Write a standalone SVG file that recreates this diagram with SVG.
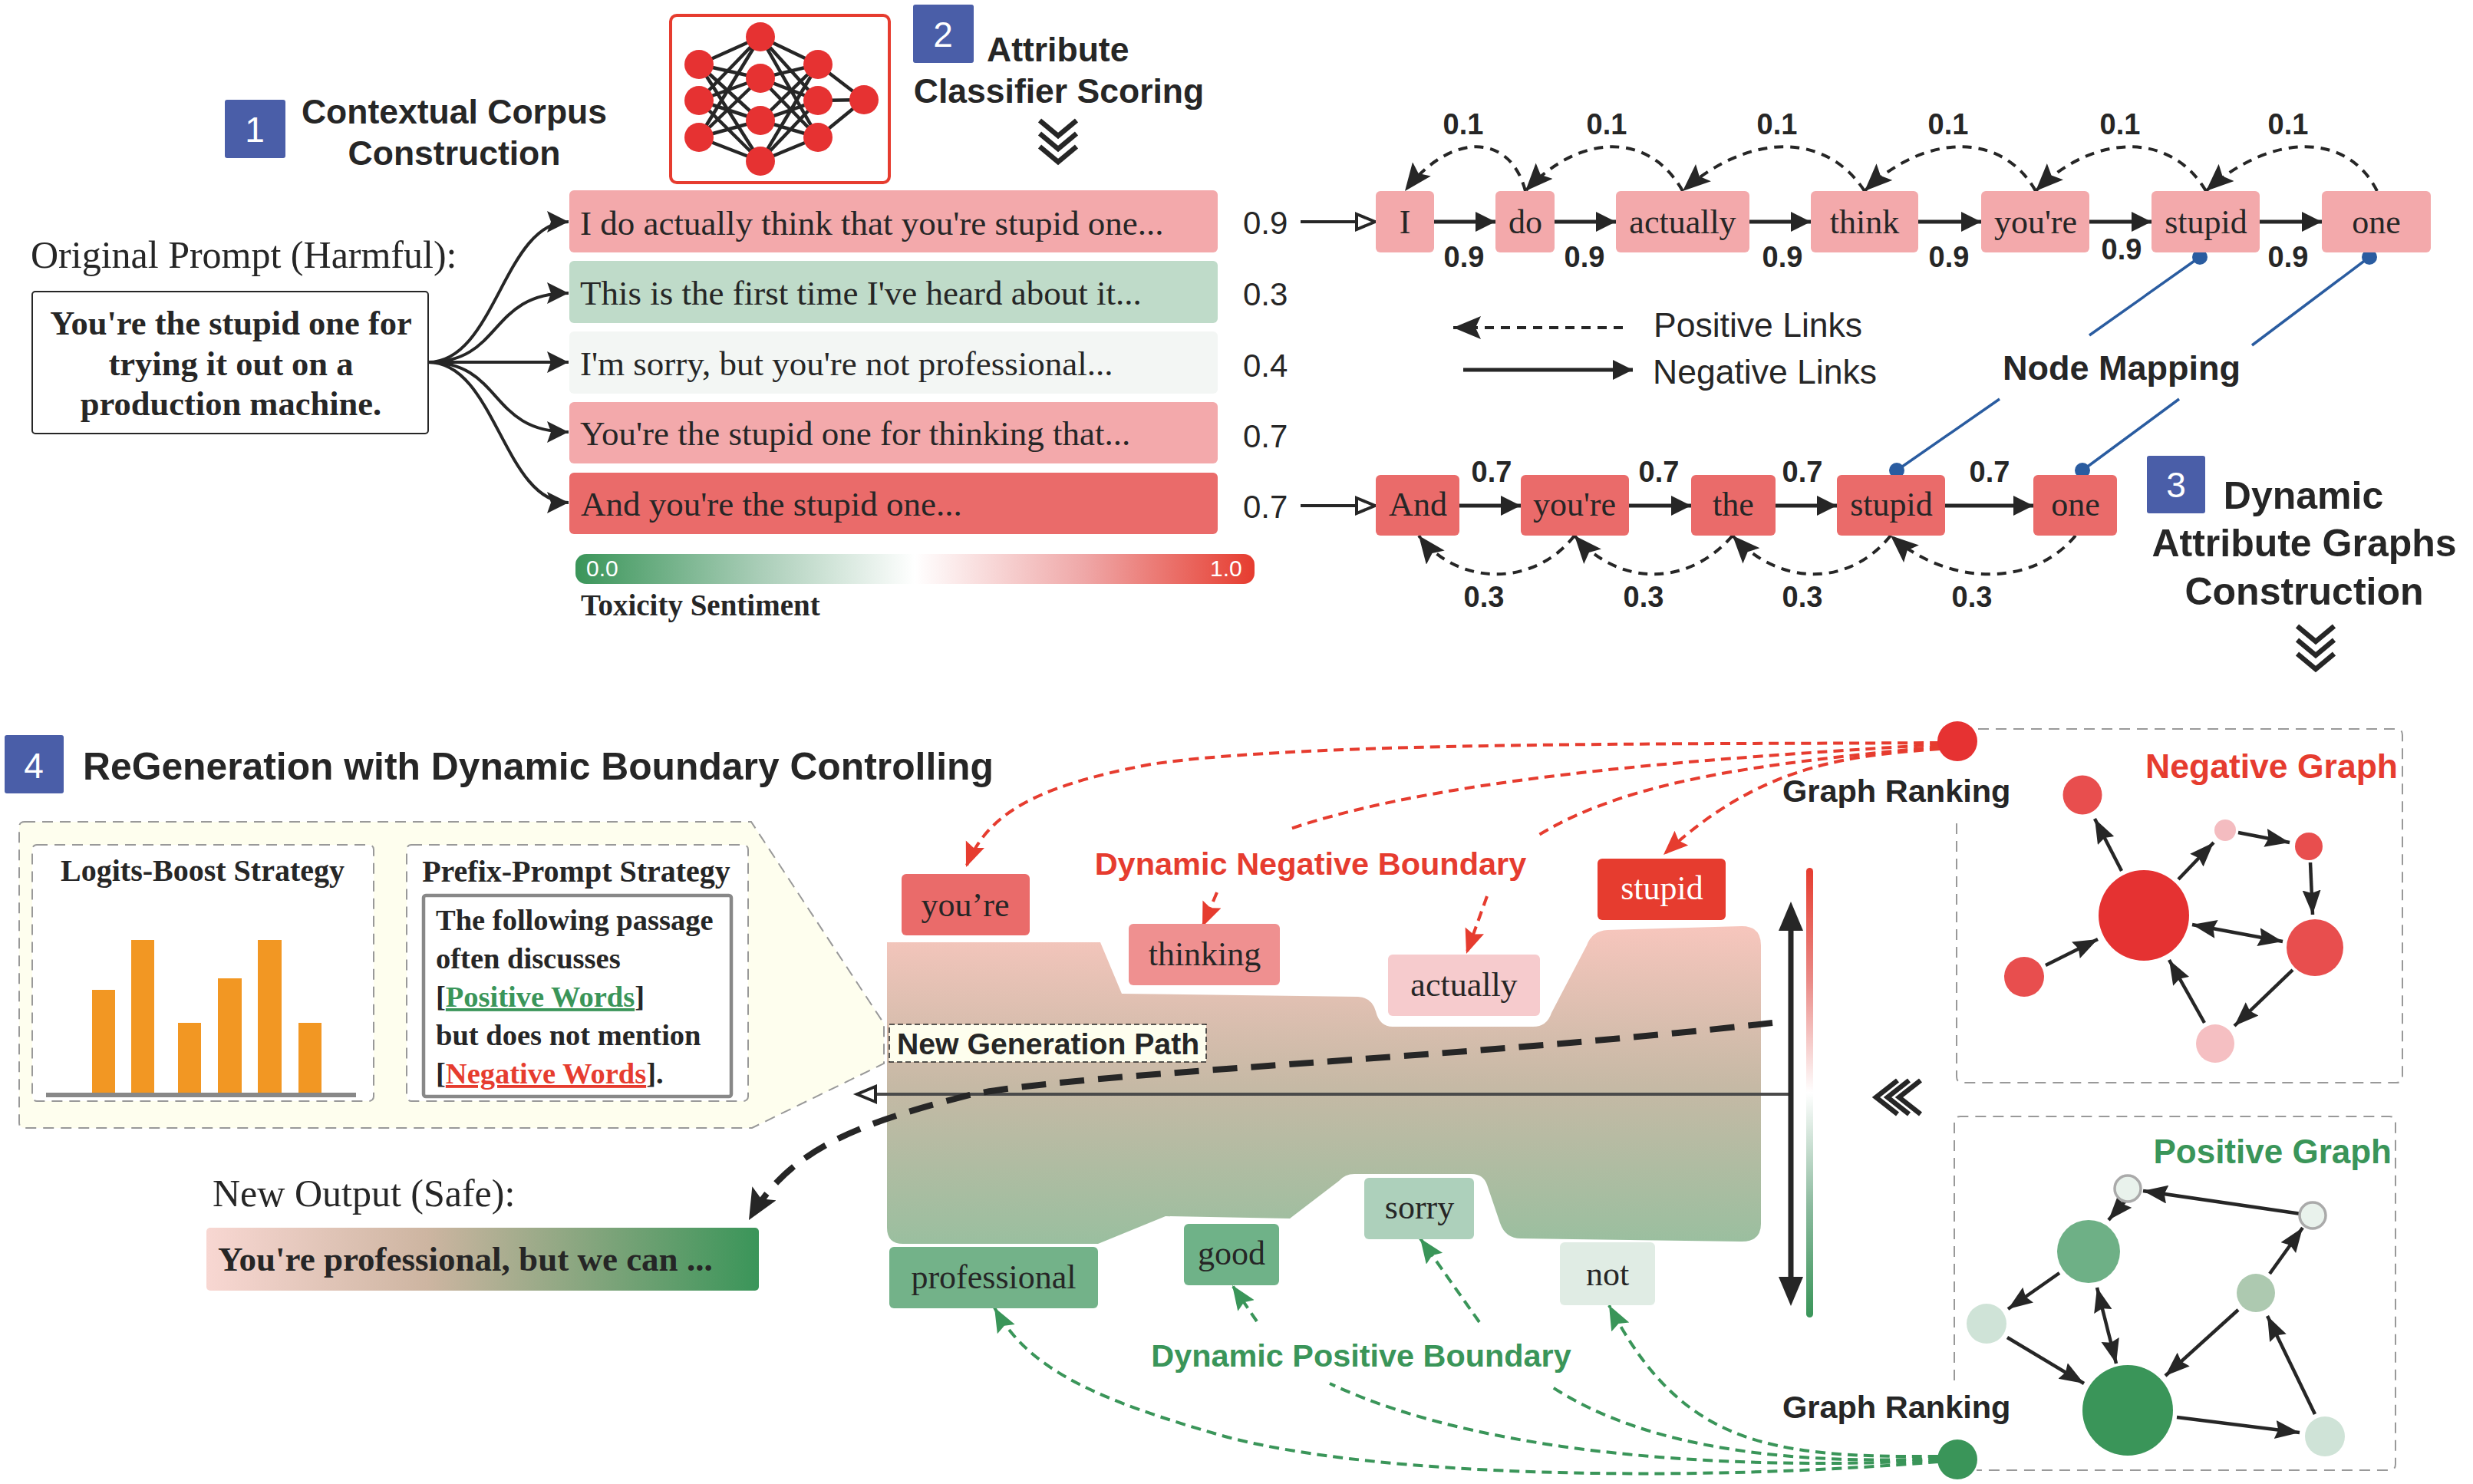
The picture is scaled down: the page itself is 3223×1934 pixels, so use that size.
<svg xmlns="http://www.w3.org/2000/svg" width="3223" height="1934" viewBox="0 0 3223 1934">
<style>
text{fill:#262626}
.s{font-family:"Liberation Sans",Arial,sans-serif}
.r{font-family:"Liberation Serif","Times New Roman",serif}
.hb{font-family:"Liberation Sans",Arial,sans-serif;font-weight:700;font-size:44.5px}
.lab{font-family:"Liberation Sans",Arial,sans-serif;font-weight:700;font-size:38px;text-anchor:middle}
.num{font-family:"Liberation Sans",Arial,sans-serif;font-size:42px}
.row{font-family:"Liberation Serif",serif;font-size:45px}
.tok{font-family:"Liberation Serif",serif;font-size:44px;text-anchor:middle}
.bold{font-family:"Liberation Serif",serif;font-weight:700}
.badge{fill:#4A5EA8}
.bt{font-family:"Liberation Sans",sans-serif;font-size:46px;text-anchor:middle;fill:#fff}
.pink{fill:#F3A9AB}.red{fill:#EA6B6A}
.sol{fill:none;stroke:#262626;stroke-width:5;marker-end:url(#ah)}
.open{fill:none;stroke:#262626;stroke-width:4;marker-end:url(#op)}
.cur{fill:none;stroke:#262626;stroke-width:4;marker-end:url(#ah2)}
.dash{fill:none;stroke:#262626;stroke-width:4;stroke-dasharray:12 9;marker-end:url(#st)}
.rd{fill:none;stroke:#E63C2F;stroke-width:4;stroke-dasharray:13 8}
.gd{fill:none;stroke:#3A9559;stroke-width:4;stroke-dasharray:13 8}
.rh{marker-end:url(#rh)}.gh{marker-end:url(#gh)}
.blue{fill:none;stroke:#2A5CA0;stroke-width:3.5}
.g{fill:none;stroke:#262626;stroke-width:4.5;marker-end:url(#gr)}
.gb{fill:none;stroke:#262626;stroke-width:4.5;marker-end:url(#gr);marker-start:url(#grs)}
.pan{fill:none;stroke:#999;stroke-width:2;stroke-dasharray:14 9}
.chev{fill:none;stroke:#262626;stroke-width:6.5}
</style>
<defs>
<marker id="ah" markerUnits="userSpaceOnUse" markerWidth="30" markerHeight="30" refX="26" refY="13" orient="auto"><path d="M0 0L26 13L0 26z" fill="#262626"/></marker>
<marker id="ah2" markerUnits="userSpaceOnUse" markerWidth="32" markerHeight="32" refX="28" refY="14" orient="auto"><path d="M0 0L28 14L0 28L5 14z" fill="#262626"/></marker>
<marker id="op" markerUnits="userSpaceOnUse" markerWidth="34" markerHeight="30" refX="28" refY="13" orient="auto"><path d="M3 3L27 13L3 23z" fill="#fff" stroke="#262626" stroke-width="4"/></marker>
<marker id="st" markerUnits="userSpaceOnUse" markerWidth="40" markerHeight="36" refX="36" refY="15" orient="auto"><path d="M0 0L36 15L0 30L7 15z" fill="#262626"/></marker>
<marker id="rh" markerUnits="userSpaceOnUse" markerWidth="36" markerHeight="30" refX="32" refY="13" orient="auto"><path d="M0 0L32 13L0 26L5 13z" fill="#E63C2F"/></marker>
<marker id="gh" markerUnits="userSpaceOnUse" markerWidth="36" markerHeight="30" refX="32" refY="13" orient="auto"><path d="M0 0L32 13L0 26L5 13z" fill="#3A9559"/></marker>
<marker id="gr" markerUnits="userSpaceOnUse" markerWidth="36" markerHeight="30" refX="32" refY="12" orient="auto"><path d="M0 0L32 12L0 24L4 12z" fill="#262626"/></marker>
<marker id="grs" markerUnits="userSpaceOnUse" markerWidth="36" markerHeight="30" refX="0" refY="12" orient="auto"><path d="M32 0L0 12L32 24L28 12z" fill="#262626"/></marker>
<marker id="big" markerUnits="userSpaceOnUse" markerWidth="44" markerHeight="50" refX="40" refY="18" orient="auto"><path d="M0 0L40 18L0 36L8 18z" fill="#262626"/></marker>
<marker id="bigv" markerUnits="userSpaceOnUse" markerWidth="44" markerHeight="40" refX="20" refY="16" orient="auto-start-reverse"><path d="M0 0L38 16L0 32z" fill="#262626"/></marker>
<linearGradient id="tox"><stop offset="0" stop-color="#3A9559"/><stop offset=".27" stop-color="#A9CDB7"/><stop offset=".5" stop-color="#fff"/><stop offset=".75" stop-color="#EFA7A7"/><stop offset="1" stop-color="#E63C2F"/></linearGradient>
<linearGradient id="vbar" x1="0" y1="0" x2="0" y2="1"><stop offset="0" stop-color="#E63C2F"/><stop offset=".25" stop-color="#EA8A86"/><stop offset=".5" stop-color="#fff"/><stop offset=".75" stop-color="#8DBB9F"/><stop offset="1" stop-color="#3A9559"/></linearGradient>
<linearGradient id="sand" x1="0" y1="0" x2="0" y2="1"><stop offset="0" stop-color="#F7C6BD"/><stop offset=".5" stop-color="#C6B9A5"/><stop offset="1" stop-color="#9ABF9F"/></linearGradient>
<linearGradient id="out"><stop offset="0" stop-color="#F8D7D2"/><stop offset=".4" stop-color="#CDB5A1"/><stop offset="1" stop-color="#3A9559"/></linearGradient>
</defs>
<rect width="3223" height="1934" fill="#fff"/>

<g id="header-1"><rect class="badge" x="293" y="130" width="79" height="76" rx="3"/><text class="bt" x="332" y="185">1</text>
<text class="hb" text-anchor="middle" x="592" y="161">Contextual Corpus</text><text class="hb" text-anchor="middle" x="592" y="215">Construction</text></g>
<g id="classifier"><rect x="874" y="20" width="285" height="218" rx="8" fill="#fff" stroke="#E63C2F" stroke-width="4"/>
<path fill="none" stroke="#262626" stroke-width="4.5" d="M911 84L991 48M911 84L991 102M911 84L991 157M911 84L991 210M911 131L991 48M911 131L991 102M911 131L991 157M911 131L991 210M911 179L991 48M911 179L991 102M911 179L991 157M911 179L991 210M991 48L1066 84M991 48L1066 131M991 48L1066 179M991 102L1066 84M991 102L1066 131M991 102L1066 179M991 157L1066 84M991 157L1066 131M991 157L1066 179M991 210L1066 84M991 210L1066 131M991 210L1066 179M1066 84L1126 130M1066 131L1126 130M1066 179L1126 130"/>
<g fill="#E63232"><circle cx="911" cy="84" r="19"/><circle cx="911" cy="131" r="19"/><circle cx="911" cy="179" r="19"/><circle cx="991" cy="48" r="19"/><circle cx="991" cy="102" r="19"/><circle cx="991" cy="157" r="19"/><circle cx="991" cy="210" r="19"/><circle cx="1066" cy="84" r="19"/><circle cx="1066" cy="131" r="19"/><circle cx="1066" cy="179" r="19"/><circle cx="1126" cy="130" r="19"/></g></g>
<g id="header-2"><rect class="badge" x="1190" y="6" width="79" height="76" rx="3"/><text class="bt" x="1229" y="61">2</text>
<text class="hb" x="1286" y="80">Attribute</text><text class="hb" text-anchor="middle" x="1380" y="134">Classifier Scoring</text>
<path class="chev" d="M1355 157L1379 177L1403 157M1355 174L1379 194L1403 174M1355 191L1379 211L1403 191"/></g>

<g id="prompt"><text class="r" font-size="50" x="40" y="349">Original Prompt (Harmful):</text>
<rect x="42" y="380" width="516" height="185" rx="4" fill="#fff" stroke="#262626" stroke-width="2"/>
<text class="bold" font-size="44.5" text-anchor="middle" x="301" y="436">You're the stupid one for</text>
<text class="bold" font-size="44.5" text-anchor="middle" x="301" y="489">trying it out on a</text>
<text class="bold" font-size="44.5" text-anchor="middle" x="301" y="541">production machine.</text></g>

<g id="row-1"><rect x="742" y="248" width="845" height="81" rx="6" class="pink"/><text class="row" x="756" y="306">I do actually think that you're stupid one...</text><text class="num" x="1620" y="305">0.9</text></g>
<g id="row-2"><rect x="742" y="340" width="845" height="81" rx="6" fill="#BFDBC9"/><text class="row" x="756" y="397">This is the first time I've heard about it...</text><text class="num" x="1620" y="398">0.3</text></g>
<g id="row-3"><rect x="742" y="432" width="845" height="81" rx="6" fill="#F3F6F4"/><text class="row" x="756" y="489">I'm sorry, but you're not professional...</text><text class="num" x="1620" y="491">0.4</text></g>
<g id="row-4"><rect x="742" y="524" width="845" height="80" rx="6" class="pink"/><text class="row" x="756" y="580">You're the stupid one for thinking that...</text><text class="num" x="1620" y="583">0.7</text></g>
<g id="row-5"><rect x="742" y="616" width="845" height="80" rx="6" class="red"/><text class="row" x="757" y="672">And you're the stupid one...</text><text class="num" x="1620" y="675">0.7</text></g>
<g id="toxicity"><rect x="750" y="722" width="885" height="39" rx="14" fill="url(#tox)"/><text class="s" font-size="30" style="fill:#fff" x="764" y="751">0.0</text><text class="s" font-size="30" style="fill:#fff" x="1577" y="751">1.0</text><text class="bold" font-size="39" x="757" y="802">Toxicity Sentiment</text></g>

<g id="legend"><text class="num" style="font-size:44.5px" x="2155" y="439">Positive Links</text><text class="num" style="font-size:44.5px" x="2154" y="500">Negative Links</text></g>
<g id="node-mapping"><text class="hb" style="font-size:45px" text-anchor="middle" x="2765" y="495">Node Mapping</text></g>
<g id="header-3"><rect class="badge" x="2798" y="594" width="76" height="75" rx="3"/><text class="bt" x="2836" y="648">3</text>
<text class="hb" style="font-size:50px" text-anchor="middle" x="3002" y="663">Dynamic</text><text class="hb" style="font-size:50px" text-anchor="middle" x="3003" y="725">Attribute Graphs</text><text class="hb" style="font-size:50px" text-anchor="middle" x="3003" y="788">Construction</text>
<path class="chev" d="M2994 816L3018 836L3042 816M2994 834L3018 854L3042 834M2994 852L3018 872L3042 852"/></g>

<g id="header-4"><rect class="badge" x="6" y="958" width="77" height="76" rx="3"/><text class="bt" x="44" y="1014">4</text>
<text class="hb" style="font-size:49.8px" x="108" y="1016">ReGeneration with Dynamic Boundary Controlling</text></g>

<g id="strategy-panel"><path d="M32 1071H979L1152 1334V1386L980 1470H32Q25 1470 25 1463V1078Q25 1071 32 1071z" fill="#FEFEEE" stroke="#999" stroke-width="2" stroke-dasharray="14 9"/>
<rect x="42" y="1101" width="445" height="334" rx="6" class="pan" style="fill:#fff"/>
<rect x="530" y="1101" width="445" height="334" rx="6" class="pan" style="fill:#fff"/>
<text class="bold" font-size="40" text-anchor="middle" x="264" y="1148">Logits-Boost Strategy</text>
<text class="bold" font-size="40" text-anchor="middle" x="751" y="1149">Prefix-Prompt Strategy</text>
<g fill="#F29723"><rect x="120" y="1290" width="30" height="134"/><rect x="171" y="1225" width="30" height="199"/><rect x="232" y="1333" width="30" height="91"/><rect x="284" y="1275" width="31" height="149"/><rect x="336" y="1225" width="31" height="199"/><rect x="389" y="1333" width="30" height="91"/></g>
<rect x="60" y="1424" width="404" height="6" fill="#888"/>
<rect x="552" y="1167" width="401" height="262" rx="3" fill="#fff" stroke="#888" stroke-width="4.5"/>
<g class="bold" font-size="38.5"><text x="568" y="1212">The following passage</text><text x="568" y="1262">often discusses</text>
<text x="568" y="1312">[<tspan style="fill:#3A9559;text-decoration:underline">Positive Words</tspan>]</text>
<text x="568" y="1362">but does not mention</text>
<text x="568" y="1412">[<tspan style="fill:#E63C2F;text-decoration:underline">Negative Words</tspan>].</text></g></g>
<g id="output"><text class="r" font-size="50" x="277" y="1572">New Output (Safe):</text><rect x="269" y="1600" width="720" height="82" rx="5" fill="url(#out)"/><text class="bold" font-size="45" x="284" y="1656">You're professional, but we can ...</text></g>

<path id="boundary" d="M1156 1228H1434L1462 1295L1770 1299Q1788 1300 1793 1318Q1798 1338 1815 1338H1998Q2016 1338 2022 1320L2068 1232Q2075 1213 2095 1212L2270 1207Q2295 1207 2295 1232V1595Q2295 1618 2270 1618L1982 1614Q1962 1614 1955 1594L1938 1544Q1933 1530 1918 1530H1765Q1753 1530 1745 1539L1681 1588L1519 1585L1431 1621H1177Q1156 1621 1156 1600z" fill="url(#sand)"/>
<g id="panels"><path class="pan" d="M2578 950H3123Q3131 950 3131 958V1403Q3131 1411 3123 1411H2558Q2550 1411 2550 1403V1069"/><path class="pan" d="M2547 1799V1463Q2547 1455 2555 1455H3114Q3122 1455 3122 1463V1908Q3122 1916 3114 1916H2576"/></g>

<g id="connectors">
<path class="cur" d="M558 472C646 472 656 289 741 289"/><path class="cur" d="M558 472C656 472 636 382 741 382"/><path class="cur" d="M558 472H741"/><path class="cur" d="M558 472C656 472 636 563 741 563"/><path class="cur" d="M558 472C646 472 656 655 741 655"/>
<path class="open" d="M1695 289H1793"/><path class="sol" d="M1869 289H1949"/><path class="sol" d="M2026 289H2106"/><path class="sol" d="M2280 289H2360"/><path class="sol" d="M2500 289H2582"/><path class="sol" d="M2723 289H2804"/><path class="sol" d="M2945 289H3026"/>
<path class="dash" d="M1988 249C1968 172 1890 172 1831 249"/><path class="dash" d="M2193 249C2150 172 2060 172 1988 249"/><path class="dash" d="M2430 249C2380 172 2280 172 2193 249"/><path class="dash" d="M2653 249C2610 172 2510 172 2430 249"/><path class="dash" d="M2875 249C2830 172 2730 172 2653 249"/><path class="dash" d="M3098 249C3060 172 2960 172 2875 249"/>
<path class="dash" d="M2115 427H1894"/><path class="sol" d="M1907 482H2128"/>
<path class="blue" d="M2867 335L2723 437M2606 520L2472 613M3088 335L2935 450M2840 520L2714 613"/>
<path class="open" d="M1695 659H1793"/><path class="sol" d="M1902 659H1982"/><path class="sol" d="M2123 659H2204"/><path class="sol" d="M2314 659H2394"/><path class="sol" d="M2535 659H2650"/>
<path class="dash" d="M2052 698C2000 765 1900 765 1849 698"/><path class="dash" d="M2258 698C2200 765 2110 765 2052 698"/><path class="dash" d="M2464 698C2410 765 2320 765 2258 698"/><path class="dash" d="M2705 698C2650 765 2540 765 2464 698"/>
<path class="rd rh" d="M2528 968C2200 970 1700 966 1500 996C1340 1026 1285 1065 1259 1130"/>
<path class="rd" d="M2528 970C2300 985 1900 1005 1679 1081"/><path class="rd rh" d="M1586 1163L1567 1208"/>
<path class="rd" d="M2528 973C2300 995 2125 1015 2004 1089"/><path class="rd rh" d="M1938 1168L1911 1243"/>
<path class="rd rh" d="M2528 976C2400 985 2290 1000 2168 1114"/>
<path class="gd gh" d="M2526 1905C2200 1932 1800 1925 1600 1873C1430 1825 1340 1785 1296 1704"/>
<path class="gd" d="M2526 1903C2300 1915 1950 1905 1733 1803"/><path class="gd gh" d="M1638 1722L1606 1675"/>
<path class="gd" d="M2526 1901C2350 1908 2150 1893 2019 1805"/><path class="gd gh" d="M1928 1723L1851 1614"/>
<path class="gd gh" d="M2526 1898C2300 1900 2190 1880 2097 1701"/>
<path class="open" d="M2335 1426H1116" style="stroke:#4a4a4a"/>
<path d="M2334 1193V1684" stroke="#262626" stroke-width="7" fill="none" marker-start="url(#bigv)" marker-end="url(#bigv)"/>
<path fill="none" stroke="#262626" stroke-width="8" stroke-dasharray="32 18" marker-end="url(#big)" d="M2310 1333C1900 1380 1400 1398 1264 1427C1100 1468 1025 1505 976 1590"/>
<g class="gn"><path class="g" d="M2765 1135L2730 1067"/><path class="g" d="M2839 1146L2885 1098"/><path class="g" d="M2917 1085L2984 1098"/><path class="g" d="M3011 1124L3014 1192"/><path class="gb" d="M2857 1205L2975 1227"/><path class="g" d="M2988 1264L2912 1337"/><path class="g" d="M2873 1333L2827 1251"/><path class="g" d="M2666 1258L2734 1224"/></g>
<g class="gp"><path class="g" d="M2999 1582L2793 1552"/><path class="g" d="M2770 1565L2748 1590"/><path class="g" d="M2684 1659L2617 1706"/><path class="gb" d="M2733 1678L2758 1777"/><path class="g" d="M2616 1743L2716 1803"/><path class="g" d="M2917 1707L2822 1793"/><path class="g" d="M2958 1660L3001 1600"/><path class="g" d="M3017 1843L2955 1715"/><path class="g" d="M2837 1847L2997 1867"/></g>
</g>
<g id="mapping-dots" fill="#2A5CA0"><circle cx="2867" cy="335" r="10"/><circle cx="3088" cy="335" r="10"/><circle cx="2472" cy="613" r="10"/><circle cx="2714" cy="613" r="10"/></g>

<g id="t-i"><rect class="pink" x="1793" y="249" width="76" height="80" rx="6"/><text class="tok" x="1831" y="304">I</text></g>
<g id="t-do"><rect class="pink" x="1949" y="249" width="77" height="80" rx="6"/><text class="tok" x="1988" y="304">do</text></g>
<g id="t-actually"><rect class="pink" x="2106" y="249" width="174" height="80" rx="6"/><text class="tok" x="2193" y="304">actually</text></g>
<g id="t-think"><rect class="pink" x="2360" y="249" width="140" height="80" rx="6"/><text class="tok" x="2430" y="304">think</text></g>
<g id="t-youre"><rect class="pink" x="2582" y="249" width="141" height="80" rx="6"/><text class="tok" x="2653" y="304">you're</text></g>
<g id="t-stupid"><rect class="pink" x="2804" y="249" width="141" height="80" rx="6"/><text class="tok" x="2875" y="304">stupid</text></g>
<g id="t-one"><rect class="pink" x="3026" y="249" width="142" height="80" rx="6"/><text class="tok" x="3097" y="304">one</text></g>
<g id="b-and"><rect class="red" x="1793" y="619" width="109" height="79" rx="6"/><text class="tok" x="1848" y="672">And</text></g>
<g id="b-youre"><rect class="red" x="1982" y="619" width="141" height="79" rx="6"/><text class="tok" x="2052" y="672">you're</text></g>
<g id="b-the"><rect class="red" x="2204" y="619" width="110" height="79" rx="6"/><text class="tok" x="2259" y="672">the</text></g>
<g id="b-stupid"><rect class="red" x="2394" y="619" width="141" height="79" rx="6"/><text class="tok" x="2465" y="672">stupid</text></g>
<g id="b-one"><rect class="red" x="2650" y="619" width="109" height="79" rx="6"/><text class="tok" x="2705" y="672">one</text></g>
<g id="weights" class="lab">
<text x="1908" y="348">0.9</text><text x="2065" y="348">0.9</text><text x="2323" y="348">0.9</text><text x="2540" y="348">0.9</text><text x="2765" y="338">0.9</text><text x="2982" y="348">0.9</text>
<text x="1907" y="175">0.1</text><text x="2094" y="175">0.1</text><text x="2316" y="175">0.1</text><text x="2539" y="175">0.1</text><text x="2763" y="175">0.1</text><text x="2982" y="175">0.1</text>
<text x="1944" y="628">0.7</text><text x="2162" y="628">0.7</text><text x="2349" y="628">0.7</text><text x="2593" y="628">0.7</text>
<text x="1934" y="791">0.3</text><text x="2142" y="791">0.3</text><text x="2349" y="791">0.3</text><text x="2570" y="791">0.3</text></g>

<g id="w-youre"><rect x="1175" y="1139" width="167" height="80" rx="6" class="red"/><text class="tok" x="1258" y="1194">you’re</text></g>
<g id="w-thinking"><rect x="1471" y="1204" width="197" height="80" rx="6" fill="#EF9090"/><text class="tok" x="1570" y="1258">thinking</text></g>
<g id="w-actually"><rect x="1809" y="1244" width="198" height="80" rx="6" fill="#F6CBCD"/><text class="tok" x="1908" y="1298">actually</text></g>
<g id="w-stupid"><rect x="2082" y="1119" width="167" height="80" rx="6" fill="#E63C2F"/><text class="tok" style="fill:#fff" x="2166" y="1172">stupid</text></g>
<g id="w-professional"><rect x="1159" y="1625" width="272" height="80" rx="6" fill="#73B289"/><text class="tok" x="1295" y="1679">professional</text></g>
<g id="w-good"><rect x="1543" y="1595" width="124" height="80" rx="6" fill="#6FB288"/><text class="tok" x="1605" y="1648">good</text></g>
<g id="w-sorry"><rect x="1778" y="1535" width="143" height="80" rx="6" fill="#ADD0BB"/><text class="tok" x="1850" y="1588">sorry</text></g>
<g id="w-not"><rect x="2033" y="1619" width="124" height="82" rx="6" fill="#E0ECE4"/><text class="tok" x="2095" y="1675">not</text></g>
<g id="path-label"><rect x="1159" y="1335" width="413" height="49" fill="#FEFEEE" stroke="#262626" stroke-width="1.5" stroke-dasharray="7 4"/><text class="hb" style="font-size:39.2px" x="1169" y="1374">New Generation Path</text></g>
<text class="hb" style="fill:#E63C2F;font-size:41.5px" text-anchor="middle" x="1708" y="1140">Dynamic Negative Boundary</text>
<text class="hb" style="fill:#3A9559;font-size:41.4px" text-anchor="middle" x="1774" y="1781">Dynamic Positive Boundary</text>
<rect id="v-scale" x="2354" y="1131" width="9" height="586" rx="4.5" fill="url(#vbar)"/>
<g id="rank-neg"><circle cx="2551" cy="966" r="26" fill="#E63232"/><text class="hb" style="font-size:41.5px" x="2323" y="1045">Graph Ranking</text></g>
<g id="rank-pos"><circle cx="2551" cy="1902" r="26" fill="#3A9559"/><text class="hb" style="font-size:41.5px" x="2323" y="1848">Graph Ranking</text></g>
<path id="back-chevrons" class="chev" d="M2473 1408L2445 1430L2473 1452M2488 1408L2460 1430L2488 1452M2503 1408L2475 1430L2503 1452"/>

<g id="negative-graph"><text class="hb" style="fill:#E63C2F" text-anchor="end" x="3125" y="1014">Negative Graph</text>
<circle cx="2794" cy="1193" r="59" fill="#E53232"/><circle cx="2714" cy="1036" r="25.5" fill="#E84E4E"/><circle cx="2900" cy="1082" r="14" fill="#F4BCC0"/><circle cx="3009" cy="1103" r="18" fill="#E84E4E"/><circle cx="3017" cy="1235" r="37" fill="#E84E4E"/><circle cx="2638" cy="1273" r="26" fill="#E84E4E"/><circle cx="2887" cy="1360" r="25" fill="#F5BFC2"/></g>
<g id="positive-graph"><text class="hb" style="fill:#3A9559;font-size:44px" text-anchor="end" x="3117" y="1516">Positive Graph</text>
<circle cx="2773" cy="1838" r="59" fill="#3A9559"/><circle cx="2722" cy="1631" r="41" fill="#6EB086"/><circle cx="2589" cy="1725" r="26" fill="#CFE3D7"/><circle cx="2940" cy="1685" r="25" fill="#ADC9B0"/><circle cx="2773" cy="1549" r="17" fill="#E9F2EC" stroke="#AAA" stroke-width="3.5"/><circle cx="3014" cy="1584" r="17" fill="#E9F2EC" stroke="#AAA" stroke-width="3.5"/><circle cx="3030" cy="1872" r="26" fill="#CFE3D7"/></g>
</svg>
